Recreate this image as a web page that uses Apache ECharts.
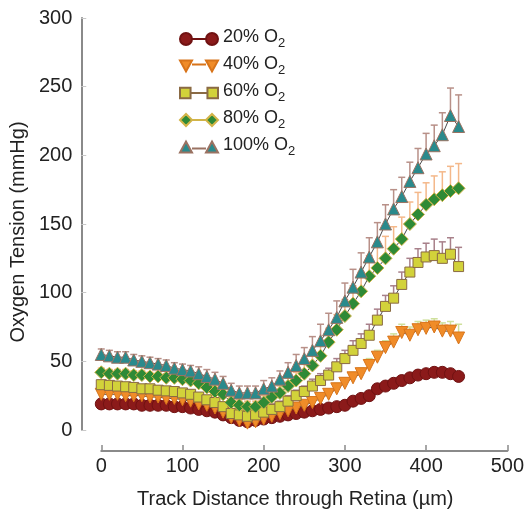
<!DOCTYPE html>
<html>
<head>
<meta charset="utf-8">
<script src="https://cdn.jsdelivr.net/npm/echarts@6/dist/echarts.min.js"></script>
<style>
html,body{margin:0;padding:0;background:#ffffff;}
#chart{width:527px;height:516px;}
</style>
</head>
<body>
<div id="chart"></div>
<script>
// Track distance (µm)
const distance = [0,10,20,30,40,50,60,70,80,90,100,110,120,130,140,150,160,170,180,190,200,210,220,230,240,250,260,270,280,290,300,310,320,330,340,350,360,370,380,390,400,410,420,430,440];

const seriesNames = ['20% O2','40% O2','60% O2','80% O2','100% O2'];

// Oxygen tension (mmHg)
const o2_20  = [19,19,19,19,19,18,18,18,18,17,17,16,15,14,13,11,9,7,6,7,8,9,10,11,12,13,14,15,16,17,18,21,23,25,30,32,34,36,38,40,41,42,42,41,39];
const o2_40  = [26,26,26,25,25,25,24,24,23,23,22,21,19,18,16,13,9,7,5,6,8,10,12,14,16,18,20,23,26,30,34,38,41,47,53,60,64,71,69,73,74,75,72,72,67];
const o2_60  = [33,32.5,32,31.5,31,30,30,29,28.5,28,27,26,24,22,20,17,12,11,10,11,13,15,17,21,25,28,32,36,40,46,52,58,63,69,80,90,96,106,115,122,126,127,125,128,119];
const o2_80  = [42,41,41,41,40,40,39,39,38,38,37,36,34,31,28,26,20,18,17,17,20,24,27,32,36,41,47,54,64,73,83,92,101,112,118,125,132,139,150,157,164,168,171,174,176];
const o2_100 = [55,54,53,53,51,50,49,48,47,45,44,43,41,39,37,34,29,27,27,27,30,32,37,42,47,52,58,65,73,82,94,104,115,126,137,150,161,170,181,191,201,207,215,229,221];

// Upper error (mmHg)
const err_40  = [2,2,2,2,2,2,2,2,2,2,2,2,2,2,2,2,2,2,2,2,2,2,2,3,3,3,3,3,3,4,4,4,4,5,5,5,6,6,6,6,6,6,6,7,10];
const err_60  = [3,3,3,3,3,3,3,3,3,3,3,3,3,3,3,3,3,3,3,3,4,4,4,4,4,4,5,5,5,6,6,7,7,8,8,8,9,9,10,10,10,12,12,12,14];
const err_80  = [3,3,3,3,3,3,3,3,3,3,3,3,4,4,4,4,4,4,4,4,5,5,5,6,6,7,8,9,10,11,12,13,14,15,15,16,16,16,16,16,16,17,17,18,18];
const err_100 = [4,4,4,4,4,4,4,4,4,4,4,4,5,5,5,5,5,5,5,5,6,6,6,7,8,8,10,12,12,12,13,13,14,14,14,14,14,14,14,14,15,15,16,20,23];

const xTicks = [0,100,200,300,400,500];
const yTicks = [0,50,100,150,200,250,300];

const FONT = 'Liberation Sans, Arial, Helvetica, sans-serif';

function pairs(vals){ return distance.map((d,i)=>[d, vals[i]]); }
function triples(vals, errs){ return distance.map((d,i)=>[d, vals[i], errs[i]]); }

function errRender(color){
  return function(params, api){
    const x = api.value(0), y = api.value(1), e = api.value(2);
    const p0 = api.coord([x, y]);
    const p1 = api.coord([x, y + e]);
    const w = 3.5;
    return {
      type: 'group',
      children: [
        {type:'line', shape:{x1:p0[0], y1:p0[1], x2:p1[0], y2:p1[1]}, style:{stroke:color, lineWidth:1.5}},
        {type:'line', shape:{x1:p1[0]-w, y1:p1[1], x2:p1[0]+w, y2:p1[1]}, style:{stroke:color, lineWidth:1.5}}
      ]
    };
  };
}

const styles = [
  {fill:'#8b1a1a', border:'#701212', symbol:'circle', size:12, rotate:0, err:null, errColor:null,
   icon:'path://M0,6a6,6 0 1,0 12,0a6,6 0 1,0 -12,0z M26,6a6,6 0 1,0 12,0a6,6 0 1,0 -12,0z M12,6L26,6'},
  {fill:'#f08c28', border:'#d8741a', symbol:'triangle', size:12, rotate:180, err:err_40, errColor:'#cfe09c',
   icon:'path://M0,1L12,1L6,12z M26,1L38,1L32,12z M12,5L26,5'},
  {fill:'#d2d23a', border:'#8a6a44', symbol:'rect', size:10, rotate:0, err:err_60, errColor:'#a8808a',
   icon:'path://M1,1h10v10h-10z M27,1h10v10h-10z M11,6L27,6'},
  {fill:'#2e8a36', border:'#d2b448', symbol:'diamond', size:13, rotate:0, err:err_80, errColor:'#f4b88a',
   icon:'path://M0,6L6,0L12,6L6,12z M26,6L32,0L38,6L32,12z M12,6L26,6'},
  {fill:'#2a8a8c', border:'#9a7262', symbol:'triangle', size:12, rotate:0, err:err_100, errColor:'#b89088',
   icon:'path://M0,12L6,1L12,12z M26,12L32,1L38,12z M12,8L26,8'}
];
const valueSets = [o2_20, o2_40, o2_60, o2_80, o2_100];

const series = [];
styles.forEach((s, k) => {
  if (!s.err) return;
  series.push({
    type: 'custom',
    name: seriesNames[k] + ' err',
    data: triples(valueSets[k], s.err),
    encode: {x: 0, y: 1},
    renderItem: errRender(s.errColor),
    z: 1,
    silent: true,
    clip: false
  });
});
styles.forEach((s, k) => {
  series.push({
    type: 'line',
    name: seriesNames[k],
    data: pairs(valueSets[k]),
    symbol: s.symbol,
    symbolSize: s.size,
    symbolRotate: s.rotate,
    showAllSymbol: true,
    lineStyle: {color: '#4a4a4a', width: 1},
    itemStyle: {color: s.fill, borderColor: s.border, borderWidth: 1},
    emphasis: {disabled: true},
    animation: false,
    z: 2 + k
  });
});

const chart = echarts.init(document.getElementById('chart'), null, {renderer: 'canvas'});
chart.setOption({
  animation: false,
  backgroundColor: '#ffffff',
  grid: {left: 101, right: 17, top: 18, bottom: 86, containLabel: false},
  legend: {
    orient: 'vertical',
    left: 174,
    top: 23,
    itemWidth: 38,
    itemHeight: 12,
    itemGap: 5,
    selectedMode: false,
    data: seriesNames.map((n, k) => ({name: n, icon: styles[k].icon})),
    formatter: function(name){ return '{t|' + name.slice(0, -1) + '}{s|2}'; },
    textStyle: {
      fontFamily: FONT,
      color: '#222',
      rich: {
        t: {fontSize: 18, fontFamily: FONT, color: '#222', lineHeight: 22, verticalAlign: 'top'},
        s: {fontSize: 13, fontFamily: FONT, color: '#222', lineHeight: 13, verticalAlign: 'bottom'}
      }
    }
  },
  xAxis: {
    type: 'value',
    min: xTicks[0],
    max: xTicks[xTicks.length - 1],
    interval: 100,
    offset: 21,
    axisLine: {show: true, onZero: false, lineStyle: {color: '#8a8a8a', width: 2}},
    axisTick: {show: true, inside: true, length: 6, lineStyle: {color: '#8a8a8a', width: 1.5}},
    axisLabel: {fontSize: 20, fontFamily: FONT, color: '#222', margin: 5},
    splitLine: {show: false},
    name: 'Track Distance through Retina (µm)',
    nameLocation: 'middle',
    nameGap: 38,
    nameTextStyle: {fontSize: 20, fontFamily: FONT, color: '#222', padding: [0, 18, 0, 0]}
  },
  yAxis: {
    type: 'value',
    min: yTicks[0],
    max: yTicks[yTicks.length - 1],
    interval: 50,
    offset: 20,
    axisLine: {show: true, onZero: false, lineStyle: {color: '#8a8a8a', width: 2}},
    axisTick: {show: true, inside: true, length: 5, lineStyle: {color: '#c8c8c8', width: 1}},
    axisLabel: {fontSize: 20, fontFamily: FONT, color: '#222', margin: 9},
    splitLine: {show: false},
    name: 'Oxygen Tension (mmHg)',
    nameLocation: 'middle',
    nameGap: 41,
    nameRotate: 90,
    nameTextStyle: {fontSize: 20, fontFamily: FONT, color: '#222', padding: [0, 16, 0, 0]}
  },
  series: series
});
</script>
</body>
</html>
